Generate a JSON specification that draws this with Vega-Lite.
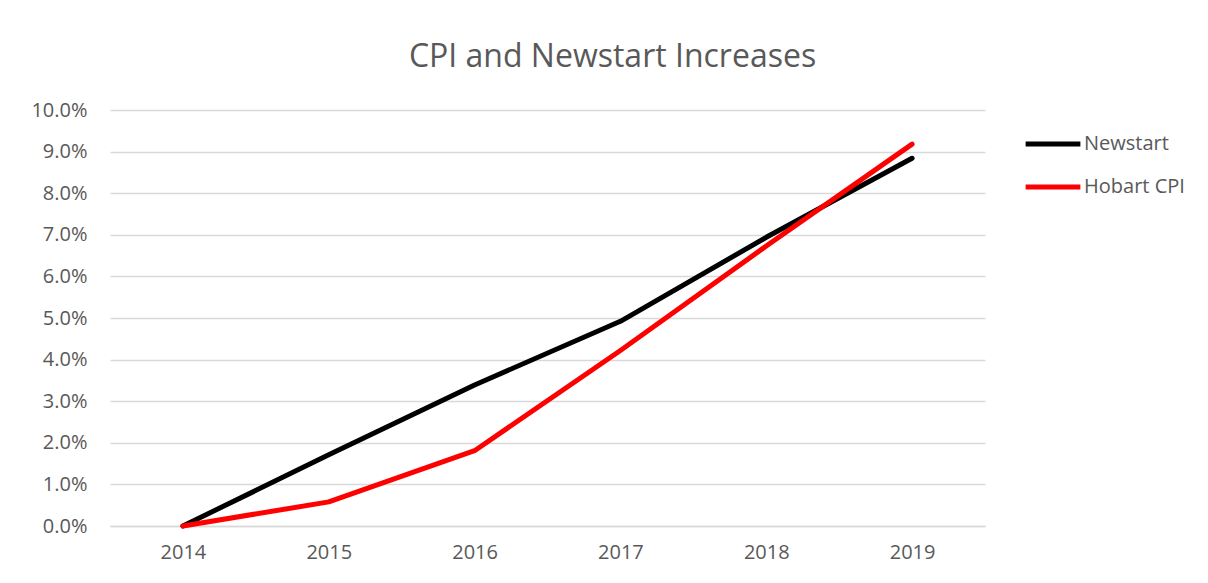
{
  "$schema": "https://vega.github.io/schema/vega-lite/v6.json",
  "width": 875,
  "height": 416,
  "autosize": "none",
  "padding": {"left": 110, "top": 110, "right": 223, "bottom": 57},
  "background": "white",
  "title": {
    "text": "CPI and Newstart Increases",
    "anchor": "middle",
    "frame": "group",
    "dx": 65,
    "offset": 26,
    "fontSize": 32,
    "font": "Open Sans",
    "fontWeight": 400,
    "color": "#595959"
  },
  "data": {
    "values": [
      {"year": "2014", "series": "Newstart", "value": 0.0},
      {"year": "2015", "series": "Newstart", "value": 0.0171},
      {"year": "2016", "series": "Newstart", "value": 0.0339},
      {"year": "2017", "series": "Newstart", "value": 0.0492},
      {"year": "2018", "series": "Newstart", "value": 0.0694},
      {"year": "2019", "series": "Newstart", "value": 0.0884},
      {"year": "2014", "series": "Hobart CPI", "value": 0.0},
      {"year": "2015", "series": "Hobart CPI", "value": 0.0058},
      {"year": "2016", "series": "Hobart CPI", "value": 0.0181},
      {"year": "2017", "series": "Hobart CPI", "value": 0.0422},
      {"year": "2018", "series": "Hobart CPI", "value": 0.0673},
      {"year": "2019", "series": "Hobart CPI", "value": 0.0918}
    ]
  },
  "mark": {"type": "line", "strokeWidth": 5, "strokeCap": "round", "strokeJoin": "round"},
  "encoding": {
    "x": {
      "field": "year",
      "type": "ordinal",
      "scale": {"type": "point", "padding": 0.5},
      "axis": {
        "title": null,
        "labelAngle": 0,
        "ticks": false,
        "domain": true,
        "domainColor": "#d9d9d9",
        "domainWidth": 1.5,
        "grid": false,
        "labelFontSize": 20,
        "labelFont": "Open Sans",
        "labelColor": "#595959",
        "labelPadding": 16
      }
    },
    "y": {
      "field": "value",
      "type": "quantitative",
      "scale": {"domain": [0, 0.1], "nice": false},
      "axis": {
        "title": null,
        "format": ".1%",
        "values": [0, 0.01, 0.02, 0.03, 0.04, 0.05, 0.06, 0.07, 0.08, 0.09, 0.1],
        "ticks": false,
        "domain": false,
        "grid": true,
        "gridColor": "#d9d9d9",
        "gridWidth": 1.5,
        "labelFontSize": 20,
        "labelFont": "Open Sans",
        "labelColor": "#595959",
        "labelPadding": 23
      }
    },
    "color": {
      "field": "series",
      "type": "nominal",
      "scale": {"domain": ["Newstart", "Hobart CPI"], "range": ["#000000", "#ff0000"]},
      "legend": {
        "title": null,
        "orient": "none",
        "legendX": 913,
        "legendY": 4,
        "symbolType": "stroke",
        "symbolSize": 3000,
        "symbolStrokeWidth": 5,
        "labelFontSize": 20,
        "labelFont": "Open Sans",
        "labelColor": "#595959",
        "labelOffset": 1,
        "rowPadding": 3
      }
    }
  },
  "config": {"view": {"stroke": null}}
}
